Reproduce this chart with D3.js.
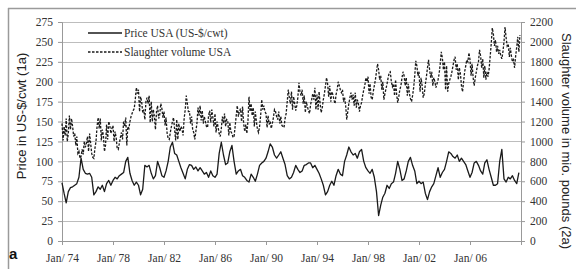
<!DOCTYPE html>
<html>
<head>
<meta charset="utf-8">
<script src="https://cdn.jsdelivr.net/npm/d3@7"></script>
<style>
  body { margin: 0; background: #fff; }
  svg { display: block; }
</style>
</head>
<body>
<div id="chart"></div>
<script>
// x axis tick labels (every 4 years)
var tickYears = [1974, 1978, 1982, 1986, 1990, 1994, 1998, 2002, 2006];
var leftTicks = [0, 25, 50, 75, 100, 125, 150, 175, 200, 225, 250, 275];
var rightTicks = [0, 200, 400, 600, 800, 1000, 1200, 1400, 1600, 1800, 2000, 2200];

// Price USA (US-$/cwt), every 2 months (Jan, Mar, May, Jul, Sep, Nov), 1974-2009
var price = [
  73, 60, 48, 62, 67, 68,     // 1974
  70, 72, 80, 104, 90, 85,    // 1975
  84, 85, 80, 58, 62, 68,     // 1976
  65, 70, 62, 72, 76, 70,     // 1977
  76, 80, 78, 82, 84, 86,     // 1978
  100, 105, 85, 76, 70, 74,   // 1979
  70, 58, 65, 95, 93, 95,     // 1980
  85, 78, 82, 100, 92, 82,    // 1981
  80, 88, 100, 118, 124, 110, // 1982
  108, 100, 92, 85, 78, 90,   // 1983
  96, 95, 90, 93, 88, 92,     // 1984
  88, 84, 86, 80, 88, 82,     // 1985
  80, 84, 110, 124, 108, 96,  // 1986
  98, 112, 120, 100, 84, 88,  // 1987
  90, 82, 80, 76, 74, 84,     // 1988
  80, 75, 84, 95, 98, 100,    // 1989
  104, 112, 122, 118, 108, 104, // 1990
  108, 112, 104, 96, 82, 78,  // 1991
  80, 86, 95, 90, 86, 88,     // 1992
  95, 96, 98, 98, 92, 95,     // 1993
  90, 85, 78, 70, 58, 62,     // 1994
  70, 75, 70, 82, 90, 84,     // 1995
  82, 100, 108, 118, 112, 108, // 1996
  110, 104, 112, 115, 100, 92, // 1997
  88, 85, 90, 80, 62, 32,     // 1998
  45, 55, 60, 70, 66, 72,     // 1999
  74, 85, 100, 90, 76, 78,    // 2000
  88, 100, 105, 95, 88, 72,   // 2001
  75, 72, 74, 60, 52, 62,     // 2002
  68, 72, 82, 92, 80, 86,     // 2003
  90, 100, 112, 110, 106, 104, // 2004
  108, 100, 104, 100, 96, 88, // 2005
  80, 86, 98, 100, 95, 88,    // 2006
  84, 98, 102, 90, 80, 70,    // 2007
  70, 72, 100, 115, 78, 74,   // 2008
  80, 78, 82, 76, 72, 86      // 2009
];

// Slaughter volume USA (mio. pounds), monthly 1974-2009
var slaughter = [
  1180, 1010, 1150, 1060, 1230, 1000, 1080, 1260, 1120, 1230, 1150, 1050, // 1974
  1080, 960, 1050, 880, 900, 830, 850, 920, 870, 1000, 940, 980,         // 1975
  1050, 900, 1080, 980, 880, 840, 830, 930, 1000, 1150, 1240, 1130,      // 1976
  1230, 1010, 1120, 1060, 900, 960, 1170, 1020, 1200, 1160, 1080, 1130,  // 1977
  1160, 1000, 1100, 1040, 930, 920, 980, 1040, 1090, 1020, 1200, 1150,   // 1978
  1240, 960, 1150, 1130, 1200, 1250, 1280, 1310, 1330, 1420, 1540, 1480, // 1979
  1520, 1300, 1450, 1400, 1290, 1320, 1220, 1400, 1440, 1380, 1460, 1190, // 1980
  1400, 1200, 1320, 1250, 1120, 1300, 1360, 1230, 1270, 1380, 1330, 1240, // 1981
  1300, 1160, 1240, 1080, 1030, 1020, 1090, 1150, 1200, 1240, 1120, 1010, // 1982
  1220, 1020, 1180, 1100, 1150, 1130, 1060, 1230, 1320, 1460, 1380, 1300, // 1983
  1300, 1180, 1250, 1120, 1090, 1020, 1100, 1180, 1340, 1260, 1360, 1210, // 1984
  1310, 1180, 1250, 1200, 1150, 1140, 1260, 1310, 1190, 1320, 1240, 1150, // 1985
  1280, 1090, 1200, 1140, 1080, 1050, 1130, 1250, 1180, 1280, 1150, 1220, // 1986
  1210, 1060, 1190, 1100, 1080, 1040, 1050, 1150, 1260, 1360, 1250, 1300, // 1987
  1330, 1200, 1350, 1180, 1100, 1170, 1080, 1200, 1450, 1300, 1380, 1260, // 1988
  1340, 1150, 1300, 1200, 1120, 1090, 1150, 1260, 1420, 1320, 1360, 1300, // 1989
  1280, 1140, 1260, 1170, 1200, 1130, 1180, 1240, 1320, 1300, 1250, 1220, // 1990
  1300, 1180, 1250, 1160, 1150, 1140, 1230, 1280, 1400, 1520, 1440, 1380, // 1991
  1500, 1320, 1450, 1380, 1310, 1360, 1440, 1590, 1500, 1460, 1520, 1380, // 1992
  1460, 1290, 1400, 1350, 1310, 1280, 1370, 1420, 1480, 1420, 1540, 1320, // 1993
  1470, 1320, 1500, 1380, 1290, 1340, 1420, 1480, 1560, 1640, 1580, 1450, // 1994
  1560, 1400, 1500, 1470, 1420, 1380, 1470, 1520, 1600, 1560, 1520, 1490, // 1995
  1520, 1400, 1440, 1360, 1220, 1300, 1380, 1440, 1490, 1420, 1470, 1360, // 1996
  1490, 1340, 1420, 1380, 1300, 1360, 1390, 1460, 1520, 1560, 1640, 1600, // 1997
  1650, 1480, 1580, 1440, 1420, 1500, 1560, 1620, 1700, 1780, 1720, 1620, // 1998
  1660, 1520, 1600, 1420, 1480, 1530, 1580, 1640, 1690, 1700, 1600, 1550, // 1999
  1580, 1460, 1620, 1470, 1390, 1450, 1520, 1560, 1640, 1700, 1660, 1560, // 2000
  1640, 1460, 1580, 1480, 1430, 1400, 1460, 1540, 1660, 1810, 1760, 1660, // 2001
  1700, 1500, 1640, 1560, 1440, 1480, 1570, 1650, 1740, 1820, 1720, 1640, // 2002
  1700, 1560, 1640, 1600, 1540, 1580, 1620, 1680, 1780, 1900, 1840, 1720, // 2003
  1800, 1520, 1760, 1500, 1580, 1620, 1650, 1700, 1760, 1820, 1850, 1720, // 2004
  1780, 1620, 1740, 1680, 1560, 1500, 1600, 1700, 1760, 1820, 1800, 1890, // 2005
  1820, 1660, 1780, 1640, 1560, 1640, 1700, 1760, 1800, 1920, 1860, 1740, // 2006
  1830, 1640, 1760, 1620, 1700, 1650, 1720, 1850, 1980, 2140, 2080, 1960, // 2007
  2020, 1900, 1960, 1880, 1920, 1860, 1830, 1900, 2000, 2150, 2040, 1960, // 2008
  1980, 1850, 1940, 1860, 1800, 1820, 1740, 1860, 1950, 2050, 1900, 2070  // 2009
];

var legendNames = ["Price USA (US-$/cwt)", "Slaughter volume USA"];

var W = 576, H = 269;
var serif = "Liberation Serif, Times New Roman, serif";
var sans = "Liberation Sans, Arial, sans-serif";
var svg = d3.select("#chart").append("svg").attr("width", W).attr("height", H);

// frame (only top and left edges visible)
svg.append("line").attr("x1", 8).attr("x2", W).attr("y1", 8.5).attr("y2", 8.5)
  .attr("stroke", "#9a9a9a").attr("stroke-width", 1.5);
svg.append("line").attr("x1", 8.5).attr("x2", 8.5).attr("y1", 8).attr("y2", H)
  .attr("stroke", "#9a9a9a").attr("stroke-width", 1.5);

var start = new Date(1974, 0, 1);
var x = d3.scaleTime().domain([start, new Date(2010, 0, 1)]).range([62, 521]);
var yL = d3.scaleLinear().domain([0, 275]).range([241, 22]);
var yR = d3.scaleLinear().domain([0, 2200]).range([241, 22]);

// gridlines
svg.append("g").selectAll("line").data(leftTicks.slice(1)).enter().append("line")
  .attr("x1", 62).attr("x2", 521)
  .attr("y1", function(d) { return Math.round(yL(d)) + 0.5; })
  .attr("y2", function(d) { return Math.round(yL(d)) + 0.5; })
  .attr("stroke", "#bdbdbd").attr("stroke-width", 1);

// axes
var axL = svg.append("g").attr("transform", "translate(62,0)")
  .call(d3.axisLeft(yL).tickValues(leftTicks).tickSize(4).tickPadding(5).tickFormat(d3.format("d")));
var axR = svg.append("g").attr("transform", "translate(521,0)")
  .call(d3.axisRight(yR).tickValues(rightTicks).tickSize(4).tickPadding(5).tickFormat(d3.format("d")));
var axB = svg.append("g").attr("transform", "translate(0,241)")
  .call(d3.axisBottom(x).tickValues(tickYears.map(function(y) { return new Date(y, 0, 1); }))
    .tickSize(4).tickPadding(9)
    .tickFormat(function(d) { return "Jan/ " + String(d.getFullYear()).slice(2); }));
[axL, axR, axB].forEach(function(a) {
  a.attr("font-family", serif).attr("font-size", 11.5);
  a.select(".domain").attr("stroke", "#999");
  a.selectAll(".tick line").attr("stroke", "#999");
  a.selectAll(".tick text").attr("fill", "#333");
});

// series
var priceLine = d3.line()
  .x(function(d, i) { return x(d3.timeMonth.offset(start, i * 2)); })
  .y(function(d) { return yL(d); });
var slaughterLine = d3.line()
  .x(function(d, i) { return x(d3.timeMonth.offset(start, i)); })
  .y(function(d) { return yR(d); });

svg.append("path").datum(slaughter).attr("d", slaughterLine)
  .attr("fill", "none").attr("stroke", "#1a1a1a").attr("stroke-width", 1.3)
  .attr("stroke-dasharray", "2.5,1.5");
svg.append("path").datum(price).attr("d", priceLine)
  .attr("fill", "none").attr("stroke", "#1a1a1a").attr("stroke-width", 1.3)
  .attr("stroke-linejoin", "round");

// legend
var leg = svg.append("g");
leg.append("line").attr("x1", 88).attr("x2", 122).attr("y1", 33).attr("y2", 33)
  .attr("stroke", "#1a1a1a").attr("stroke-width", 1.3);
leg.append("line").attr("x1", 88).attr("x2", 122).attr("y1", 52).attr("y2", 52)
  .attr("stroke", "#1a1a1a").attr("stroke-width", 1.3).attr("stroke-dasharray", "2.5,1.5");
leg.selectAll("text").data(legendNames).enter().append("text")
  .attr("x", 124).attr("y", function(d, i) { return 37 + i * 19; })
  .attr("font-family", serif)
  .attr("font-size", "11.5px").attr("fill", "#333")
  .text(function(d) { return d; });

// axis titles
svg.append("text").attr("transform", "translate(26,116) rotate(-90)")
  .attr("text-anchor", "middle").attr("font-family", sans)
  .attr("font-size", "13px").attr("fill", "#222")
  .text("Price in US-$/cwt (1a)");
svg.append("text").attr("transform", "translate(562,141) rotate(90)")
  .attr("text-anchor", "middle").attr("font-family", sans)
  .attr("font-size", "13px").attr("fill", "#222")
  .text("Slaughter volume in mio. pounds (2a)");

svg.append("text").attr("x", 9).attr("y", 259)
  .attr("font-family", sans).attr("font-weight", "bold")
  .attr("font-size", "15px").attr("fill", "#111").text("a");
</script>
</body>
</html>
